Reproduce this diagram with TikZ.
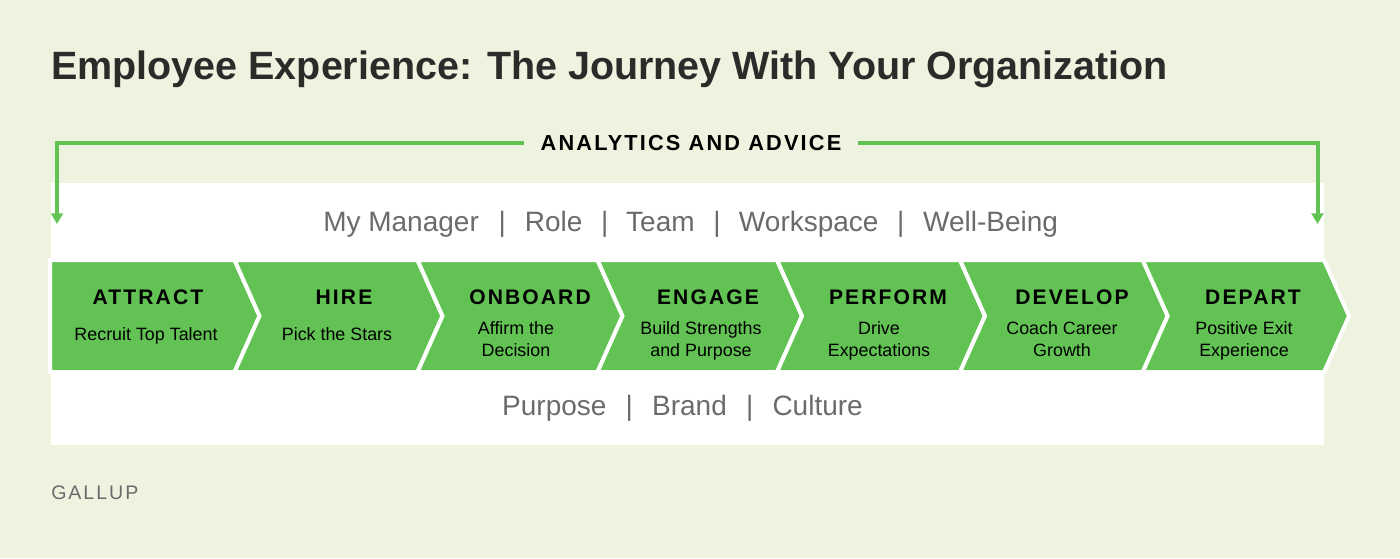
\documentclass[tikz,border=0pt]{standalone}
\usepackage{fontspec}
\setmainfont{Liberation Sans}
\newfontfamily\capsfont[LetterSpace=10]{Liberation Sans}
\usetikzlibrary{arrows.meta}
\definecolor{paper}{HTML}{EDF3DF}
\definecolor{leaf}{HTML}{62C354}
\definecolor{ink}{HTML}{2B2C2A}
\definecolor{slate}{HTML}{6B6B6B}
\begin{document}
\begin{tikzpicture}[x=0.75pt,y=-0.75pt]
        % Styles
        \tikzstyle{chevron box}=[fill=leaf,draw=white,line width=3pt,miter limit=10]
        \tikzstyle{arrow line}=[draw=leaf,line width=3pt,-{Triangle[length=8pt,width=8.8pt]}]
        \tikzstyle{stage name}=[inner sep=0pt,font=\capsfont\bfseries\fontsize{15.8}{18}\selectfont,text=black]
        \tikzstyle{stage text}=[inner sep=0pt,align=center,font=\fontsize{13.4}{16.5}\selectfont,text=black]
        \tikzstyle{band text}=[inner sep=0pt,font=\fontsize{21}{24}\selectfont,text=slate]
        %The graphic
        \fill[paper] (0,0) rectangle (1400,558);
        \fill[white] (50.5,183) rectangle (1324,445);
        \node[anchor=west,inner sep=0pt,text=ink,font=\bfseries\fontsize{29.6}{34}\selectfont] (heading) at (51,69) {Employee Experience: The Journey With Your Organization};
        %top arrows
        \node[inner xsep=12.5pt,inner ysep=0pt,font=\capsfont\bfseries\fontsize{16.3}{18}\selectfont,text=black] (advice) at (691,143) {ANALYTICS AND ADVICE};
        \coordinate (left end) at (57,224);
        \coordinate (right end) at (1317.5,224);
        \draw[arrow line] (advice.west) -| (left end);
        \draw[arrow line] (advice.east) -| (right end);
        %bands
        \node[band text,anchor=west] (top band) at (323,224) {My Manager\hspace{14.8pt}|\hspace{14.3pt}Role\hspace{14pt}|\hspace{13.3pt}Team\hspace{14pt}|\hspace{13.8pt}Workspace\hspace{14pt}|\hspace{14pt}Well-Being};
        \node[band text] (bottom band) at (682.5,408) {Purpose\hspace{14.4pt}|\hspace{14.4pt}Brand\hspace{14.4pt}|\hspace{14.4pt}Culture};
        %chevrons
        \draw[chevron box] (50,260) -- (234.5,260) -- (259.5,316) -- (234.5,372) -- (50,372) -- cycle;
        \foreach \xa/\xb in {234.5/417.5,417.5/597.5,597.5/777,777/960,960/1142.7,1142.7/1324}
            \draw[chevron box] (\xa,260) -- (\xb,260) -- (\xb+25,316) -- (\xb,372) -- (\xa,372) -- (\xa+25,316) -- cycle;
        %names
        \foreach \nx/\nname/\ntext in {148/attract/ATTRACT,344/hire/HIRE,530/onboard/ONBOARD,708/engage/ENGAGE,888/perform/PERFORM,1072/develop/DEVELOP,1253/depart/DEPART}
            \node[stage name] (\nname) at (\nx,297) {\ntext};
        \foreach \nx/\ny/\nname/\ntext in {146/336/attract text/Recruit Top Talent,337/334/hire text/Pick the Stars,516/339/onboard text/Affirm the\\Decision,701/341/engage text/Build Strengths\\and Purpose,879/341/perform text/Drive\\Expectations,1062/339/develop text/Coach Career\\Growth,1244/341/depart text/Positive Exit\\Experience}
            \node[stage text] (\nname) at (\nx,\ny) {\ntext};
        \node[anchor=west,inner sep=0pt,text=slate,font=\capsfont\fontsize{14.7}{18}\selectfont] (source) at (51,493) {GALLUP};
\end{tikzpicture}
\end{document}
